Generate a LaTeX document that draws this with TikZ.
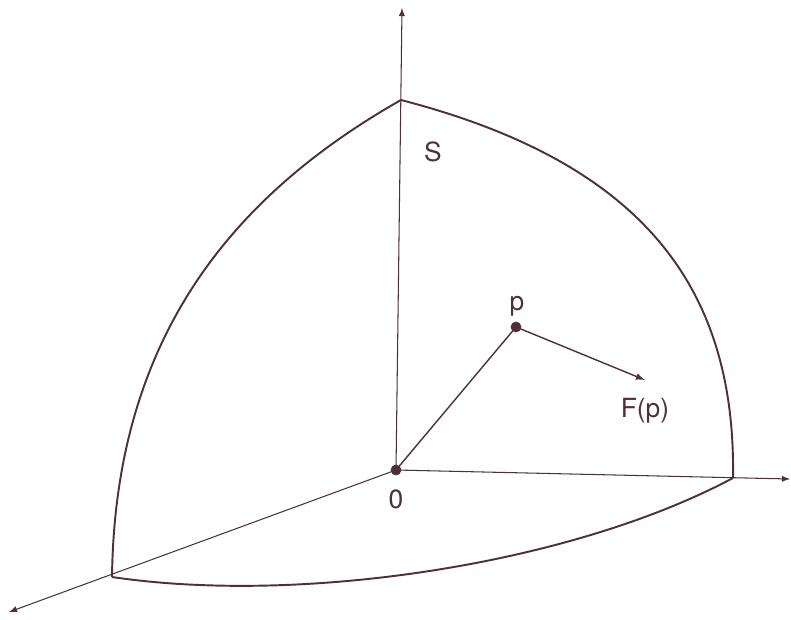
\documentclass[tikz,border=0pt]{standalone}
\usepackage{fontspec}
\setmainfont{TeX Gyre Heros}
\usepackage{xcolor}
\definecolor{ink}{RGB}{78,48,58}

\begin{document}
\begin{tikzpicture}[x=0.02cm,y=-0.02cm,color=ink,
  axis/.style={line width=0.6pt,-latex},
  arc/.style={line width=1.1pt},
  lbl/.style={font=\fontsize{15}{18}\selectfont,text=ink}]
\useasboundingbox (0,0) rectangle (791,619);

\coordinate (O) at (396,470);
\coordinate (top) at (401,100);
\coordinate (left) at (112,577);
\coordinate (right) at (733,478);
\coordinate (zend) at (402,8);
\coordinate (xend) at (790,479);
\coordinate (yend) at (9,612);
\coordinate (p) at (516,327);
\coordinate (Fp) at (645,380);

% axes
\draw[axis] (O) -- (zend);
\draw[axis] (O) -- (xend);
\draw[axis] (O) -- (yend);

% the piece of sphere
\draw[arc] (top) .. controls (230,197) and (115,340) .. (left);
\draw[arc] (top) .. controls (640,162) and (736,285) .. (right);
\draw[arc] (left) .. controls (300,605) and (570,565) .. (right);

\draw[line width=0.8pt] (O) -- (p);
\draw[line width=0.8pt,-latex] (p) -- (Fp);

\draw[fill=ink] (O) circle (5);
\draw[fill=ink] (p) circle (5);

\node[lbl] (lS) at (433,152) {S};
\node[lbl] (lp) at (517,306) {p};
\node[lbl] (lF) at (645,411) {F(p)};
\node[lbl] (l0) at (396,499) {0};

\end{tikzpicture}
\end{document}
